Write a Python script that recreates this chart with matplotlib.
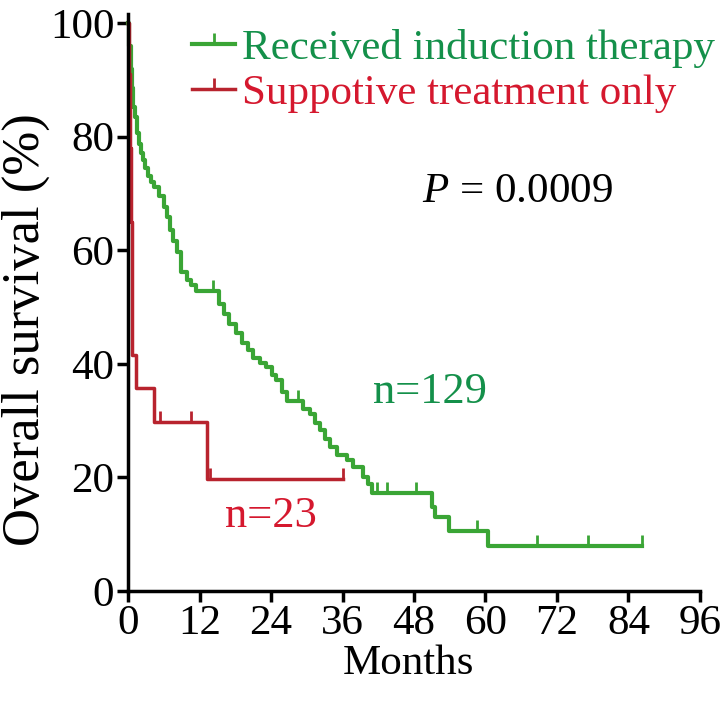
import matplotlib
matplotlib.use("Agg")
import matplotlib.pyplot as plt
from matplotlib.lines import Line2D
from matplotlib.path import Path

plt.rcParams['font.family'] = ['Liberation Serif', 'DejaVu Serif']
plt.rcParams['mathtext.fontset'] = 'custom'
plt.rcParams['mathtext.rm'] = 'Liberation Serif'
plt.rcParams['mathtext.it'] = 'Liberation Serif:italic'

# Kaplan-Meier steps (months, % surviving)
induction_t = [0, 0.2, 0.4, 0.6, 0.8, 1.1, 1.5, 1.9, 2.2, 2.5, 2.9, 3.3, 3.8, 4.4,
               5.2, 6.1, 6.6, 7.1, 7.6, 8.2, 8.9, 9.8, 10.5, 11.4, 15.3, 16.1, 17.0,
               18.1, 19.2, 20.1, 20.9, 22.1, 23.2, 24.1, 24.9, 25.8, 26.6, 29.4,
               30.5, 31.3, 32.2, 33.1, 33.9, 35.0, 36.7, 37.8, 39.5, 40.3, 41.0,
               51.1, 51.6, 53.9, 60.4, 86.3]
induction_s = [100, 96, 92, 88.5, 85.3, 83.5, 80.6, 78.8, 77.2, 75.9, 74.4, 73, 72, 71.2,
               69.6, 67.7, 65.8, 63.6, 61.7, 59.7, 56.1, 54.8, 53.8, 52.9, 50.6, 48.8, 47.1,
               45.4, 43.6, 42.5, 41.1, 40.2, 39.4, 38.0, 37.1, 35.0, 33.5, 32.1,
               31.2, 29.6, 28.3, 26.7, 25.3, 24.0, 23.0, 21.8, 20.0, 18.8, 17.2,
               14.8, 13.1, 10.6, 7.9, 7.9]
induction_cens_t = [14.3, 28.5, 41.8, 43.4, 48.4, 58.5, 68.7, 77.3, 86.3]
induction_cens_s = [52.9, 33.5, 17.2, 17.2, 17.2, 10.6, 7.9, 7.9, 7.9]

support_t = [0, 0.15, 0.3, 0.45, 0.6, 0.72, 1.4, 4.4, 13.2, 36.1]
support_s = [100, 91, 78, 65, 52, 41.5, 35.7, 29.7, 19.8, 19.8]
support_cens_t = [5.3, 10.5, 13.7, 36.1]
support_cens_s = [29.7, 29.7, 19.8, 19.8]

labels = ['Received induction therapy', 'Suppotive treatment only']
x_ticks = [0, 12, 24, 36, 48, 60, 72, 84, 96]
y_ticks = [0, 20, 40, 60, 80, 100]

green = '#3aa535'
red = '#b8232e'
green_txt = '#14904a'
red_txt = '#d5182e'
tick_up = Path([(0, 0), (0, 1)])

fig = plt.figure(figsize=(7.2, 7.01), dpi=100)
ax = fig.add_axes([0.178, 0.157, 0.794, 0.81])

ax.step(induction_t, induction_s, where='post', color=green, lw=3, clip_on=False)
ax.plot(induction_cens_t, induction_cens_s, ls='none', marker=tick_up, ms=16,
        mec=green, mew=2, clip_on=False)
ax.step(support_t, support_s, where='post', color=red, lw=2.5, clip_on=False)
ax.plot(support_cens_t, support_cens_s, ls='none', marker=tick_up, ms=16,
        mec=red, mew=2, clip_on=False)

ax.set_xlim(0, 96)
ax.set_ylim(0, 100)
ax.set_xticks(x_ticks)
ax.set_yticks(y_ticks)
ax.tick_params(labelsize=31, length=8, width=2.5, pad=2, colors='black')
for s in ['top', 'right']:
    ax.spines[s].set_visible(False)
for s in ['left', 'bottom']:
    ax.spines[s].set_linewidth(2.5)
ax.spines['left'].set_bounds(0, 101.6)

ax.set_xlabel('Months', fontsize=31)
ax.xaxis.set_label_coords(0.49, -0.095)
ax.set_ylabel('Overall survival (%)', fontsize=38)
ax.yaxis.set_label_coords(-0.136, 0.46)

handles = [Line2D([], [], color=green, lw=3, marker=tick_up, ms=16, mew=2),
           Line2D([], [], color=red, lw=2.5, marker=tick_up, ms=16, mew=2)]
leg = ax.legend(handles, labels, loc='upper left', bbox_to_anchor=(0.074, 1.028),
                frameon=False, fontsize=31, handlelength=1.0, handletextpad=0.15,
                labelspacing=0.15, borderpad=0, numpoints=1,
                labelcolor=[green_txt, red_txt])

ax.text(65.4, 70.3, r'$P$ = 0.0009', fontsize=31, ha='center', va='center')
ax.text(50.7, 35.0, 'n=129', fontsize=32, color=green_txt, ha='center', va='center')
ax.text(24, 13.2, 'n=23', fontsize=32, color=red_txt, ha='center', va='center')

fig.savefig('out.png', dpi=100)
